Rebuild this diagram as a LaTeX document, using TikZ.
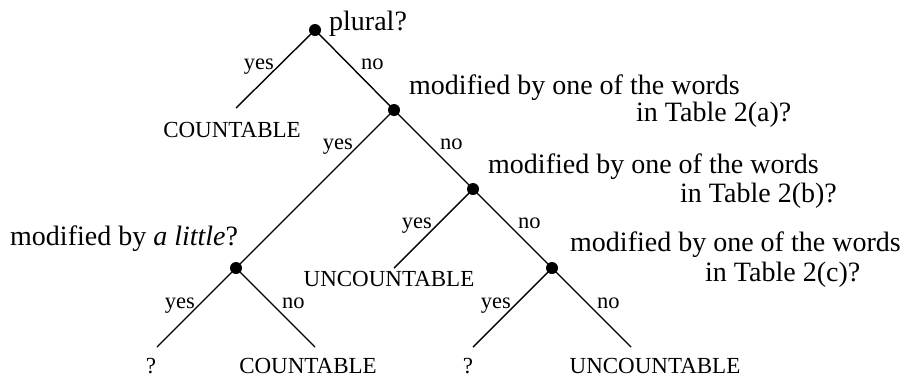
\documentclass[tikz,border=0pt]{standalone}
\usepackage{fontspec}
\setmainfont{Liberation Serif}
\begin{document}
\begin{tikzpicture}[x=1pt,y=-1pt,
  dot/.style={circle,fill=black,inner sep=0pt,minimum size=12pt},
  edge/.style={line width=1.4pt},
  q/.style={inner sep=0pt,font=\fontsize{28}{30}\selectfont},
  lab/.style={inner sep=0pt,font=\fontsize{22.5}{24}\selectfont},
  leaf/.style={inner sep=0pt,anchor=base,font=\fontsize{23}{25}\selectfont}]
\useasboundingbox (0,0) rectangle (910,381);
% decision points
\node[dot] (a) at (315,30) {};
\node[dot] (b) at (394,110) {};
\node[dot] (c) at (473,189) {};
\node[dot] (d) at (236,268) {};
\node[dot] (e) at (552,268) {};
% leaf ends
\coordinate (la) at (236,108);
\coordinate (lc) at (394,268);
\coordinate (ldy) at (157,347);
\coordinate (ldn) at (315,347);
\coordinate (ley) at (473,347);
\coordinate (len) at (631,347);
% edges
\draw[edge] (a.center) -- (la);
\draw[edge] (a.center) -- (b.center);
\draw[edge] (b.center) -- (d.center);
\draw[edge] (b.center) -- (c.center);
\draw[edge] (c.center) -- (lc);
\draw[edge] (c.center) -- (e.center);
\draw[edge] (d.center) -- (ldy);
\draw[edge] (d.center) -- (ldn);
\draw[edge] (e.center) -- (ley);
\draw[edge] (e.center) -- (len);
% yes / no labels
\node[lab,anchor=base east] (ya) at (274,69) {yes};
\node[lab,anchor=base west] (na) at (361,69) {no};
\node[lab,anchor=base east] (yb) at (353,149) {yes};
\node[lab,anchor=base west] (nb) at (440,149) {no};
\node[lab,anchor=base east] (yc) at (432,228) {yes};
\node[lab,anchor=base west] (nc) at (518,228) {no};
\node[lab,anchor=base east] (yd) at (195,308) {yes};
\node[lab,anchor=base west] (nd) at (282,308) {no};
\node[lab,anchor=base east] (ye) at (511,308) {yes};
\node[lab,anchor=base west] (ne) at (597,308) {no};
% questions
\node[q,anchor=base west] (qa) at (329,30) {plural?};
\node[q,anchor=base west] (qb1) at (409,94) {modified by one of the words};
\node[q,anchor=base west] (qb2) at (636,121) {in Table 2(a)?};
\node[q,anchor=base west] (qc1) at (488,173) {modified by one of the words};
\node[q,anchor=base west] (qc2) at (680,202) {in Table 2(b)?};
\node[q,anchor=base west] (qe1) at (570,251) {modified by one of the words};
\node[q,anchor=base west] (qe2) at (705,281) {in Table 2(c)?};
\node[q,anchor=base west] (qd) at (10,245) {modified by \textit{a little}?};
% leaf texts
\node[leaf] (ta) at (232,137) {COUNTABLE};
\node[leaf] (tc) at (389,286) {UNCOUNTABLE};
\node[leaf] (tdy) at (151,373) {?};
\node[leaf] (tdn) at (308,373) {COUNTABLE};
\node[leaf] (tey) at (468,373) {?};
\node[leaf] (ten) at (655,373) {UNCOUNTABLE};
\end{tikzpicture}
\end{document}
